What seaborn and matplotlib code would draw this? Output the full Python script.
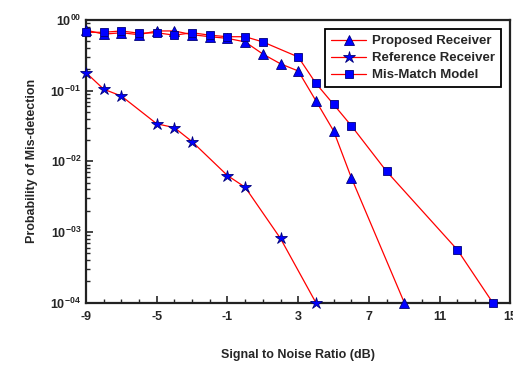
import numpy as np
import pandas as pd
import seaborn as sns
import matplotlib.pyplot as plt
import matplotlib.ticker as mticker

sns.set_style("ticks")
plt.rcParams["font.family"] = ["Liberation Sans", "DejaVu Sans"]
plt.rcParams["font.weight"] = "bold"
plt.rcParams["mathtext.fontset"] = "custom"
plt.rcParams["mathtext.rm"] = "Liberation Sans:bold"
plt.rcParams["mathtext.it"] = "Liberation Sans:bold"
plt.rcParams["mathtext.bf"] = "Liberation Sans:bold"

# Proposed Receiver (triangles)
prop_snr = [-9, -8, -7, -6, -5, -4, -3, -2, -1, 0, 1, 2, 3, 4, 5, 6, 9]
prop_pm = [0.72, 0.63, 0.66, 0.62, 0.70, 0.70, 0.62, 0.58, 0.55, 0.49, 0.33, 0.24, 0.19,
           0.072, 0.027, 0.0059, 1e-4]

# Reference Receiver (stars)
ref_snr = [-9, -8, -7, -5, -4, -3, -1, 0, 2, 4]
ref_pm = [0.18, 0.105, 0.084, 0.034, 0.030, 0.019, 0.0063, 0.0043, 0.00081, 1e-4]

# Mis-Match Model (squares)
mis_snr = [-9, -8, -7, -6, -5, -4, -3, -2, -1, 0, 1, 3, 4, 5, 6, 8, 12, 14]
mis_pm = [0.67, 0.67, 0.70, 0.65, 0.66, 0.61, 0.66, 0.61, 0.58, 0.58, 0.49, 0.30, 0.127,
          0.064, 0.032, 0.0072, 0.00056, 1e-4]

x_ticks = [-9, -5, -1, 3, 7, 11, 15]

fig = plt.figure(figsize=(5.13, 3.67), dpi=100)
ax = fig.add_axes([0.1676, 0.1752, 0.8274, 0.7703])

series = [
    ("Proposed Receiver", prop_snr, prop_pm, "^", 7),
    ("Reference Receiver", ref_snr, ref_pm, "*", 9),
    ("Mis-Match Model", mis_snr, mis_pm, "s", 6),
]
for name, xs, ys, mk, ms in series:
    df = pd.DataFrame({"snr": xs, "pm": ys})
    sns.lineplot(data=df, x="snr", y="pm", ax=ax, color="red", linewidth=0.9,
                 marker=mk, markersize=ms, markerfacecolor="#0000ff",
                 markeredgecolor="#00007a", markeredgewidth=0.6, label=name,
                 clip_on=False, zorder=3)

ax.set_yscale("log")
ax.set_xlim(-9, 15)
ax.set_ylim(1e-4, 1)
ax.set_xticks(x_ticks)
ax.xaxis.set_minor_locator(mticker.MultipleLocator(1))
ax.set_xticklabels([str(t) for t in x_ticks])
ax.yaxis.set_major_locator(mticker.LogLocator(base=10, numticks=10))
ax.yaxis.set_minor_locator(mticker.LogLocator(base=10, subs=np.arange(2, 10), numticks=10))
ax.yaxis.set_minor_formatter(mticker.NullFormatter())

def fmt_exp(v, pos):
    e = int(round(np.log10(v)))
    s = "-%02d" % -e if e < 0 else "%02d" % e
    return r"$10^{%s}$" % s

ax.yaxis.set_major_formatter(mticker.FuncFormatter(fmt_exp))

ax.tick_params(axis="both", which="both", direction="in", top=False, right=False)
ax.tick_params(axis="both", which="major", length=5, width=1.2, labelsize=9)
ax.tick_params(axis="both", which="minor", length=3, width=1.0)
ax.tick_params(axis="x", pad=6)
for sp in ax.spines.values():
    sp.set_linewidth(1.6)
    sp.set_color("#222222")

ax.set_xlabel("Signal to Noise Ratio (dB)", fontsize=9, fontweight="bold", labelpad=19)
ax.set_ylabel("Probability of Mis-detection", fontsize=9, fontweight="bold", labelpad=9)

leg = ax.legend(loc="upper right", frameon=True, fancybox=False,
                borderaxespad=0.7, handlelength=2.6, borderpad=0.45, labelspacing=0.35,
                handletextpad=0.5, prop={"weight": "bold", "size": 9.5})
leg.get_frame().set_edgecolor("black")
leg.get_frame().set_linewidth(1.3)
leg.get_frame().set_alpha(1)

fig.savefig("out.png", dpi=100)
